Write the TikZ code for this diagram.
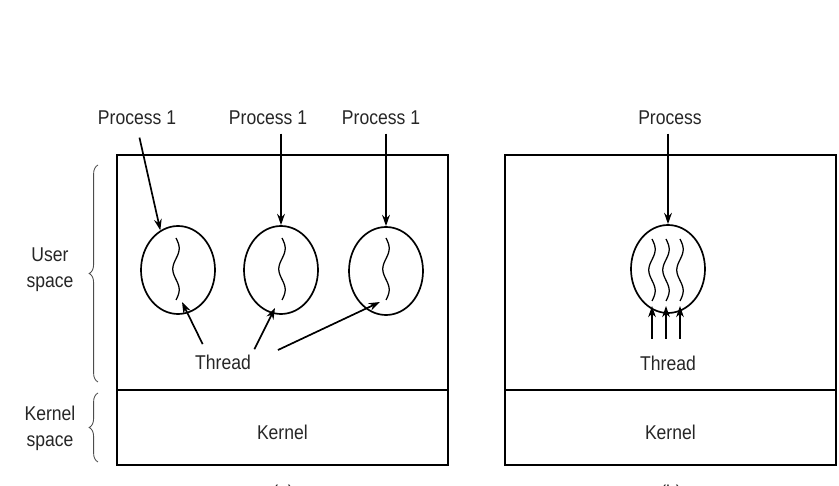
\documentclass[tikz,border=0pt]{standalone}
\usepackage{fontspec}
\setmainfont{Liberation Sans}[FakeStretch=0.88]
\usetikzlibrary{shapes.geometric, arrows.meta, decorations.pathreplacing}

\begin{document}
\begin{tikzpicture}
        [txt/.style={font=\fontsize{14.2}{18.4}\selectfont,text=black!85,inner sep=1pt,align=center},
         proc/.style={draw,shape=ellipse,line width=1.2pt,minimum width=1.85cm,minimum height=2.2cm,inner sep=0},
         arr/.style={-{Stealth[length=8pt,width=5.5pt]},line width=1.2pt},
         thr/.style={line width=0.9pt},
         brc/.style={decorate,decoration={brace,amplitude=0.22cm},line width=0.6pt,black!70}]

        \useasboundingbox (0,0) rectangle (20.975,12.15);

        % the two pictures
        \draw[line width=1.2pt] (2.925,0.525) rectangle (11.2,8.275);
        \draw[line width=1.4pt] (2.925,2.4) -- (11.2,2.4);
        \draw[line width=1.2pt] (12.625,0.525) rectangle (20.9,8.275);
        \draw[line width=1.2pt] (12.625,2.4) -- (20.9,2.4);

        \node[txt] (ka) at (7.06, 1.35) {Kernel};
        \node[txt] (kb) at (16.76, 1.35) {Kernel};

        % spaces at the left
        \node[txt] (us) at (1.25, 5.4) {User\\space};
        \node[txt] (ks) at (1.25, 1.45) {Kernel\\space};
        \draw[brc] (2.45,2.6) -- (2.45,8.025);
        \draw[brc] (2.45,0.6) -- (2.45,2.325);

        % processes
        \node[proc] (p1) at (4.45, 5.4) {};
        \node[proc] (p2) at (7.025, 5.4) {};
        \node[proc] (p3) at (9.65, 5.375) {};
        \node[proc] (pb) at (16.7, 5.425) {};

        \node[txt] (lp1) at (3.425, 9.2) {Process 1};
        \node[txt] (lp2) at (6.7, 9.2) {Process 1};
        \node[txt] (lp3) at (9.525, 9.2) {Process 1};
        \node[txt] (lpb) at (16.75, 9.2) {Process};

        \draw[arr, shorten <=8pt] (lp1.south) -- (p1.114);
        \draw[arr, shorten <=5pt] (lp2.south -| p2.north) -- (p2.north);
        \draw[arr, shorten <=5pt] (lp3.south -| p3.north) -- (p3.north);
        \draw[arr, shorten <=5pt] (lpb.south -| pb.north) -- (pb.north);

        % threads
        \foreach \x/\y in {4.4/6.2, 7.05/6.2, 9.65/6.2, 16.3/6.175, 16.65/6.175, 17.0/6.175}
          \draw[thr] plot[variable=\t, domain=0:1.55, samples=40, smooth]
                ({\x+0.08*sin(\t*348)}, {\y-\t});

        \node[txt] (th) at (5.575, 3.1) {Thread};
        \node[txt] (thb) at (16.7, 3.075) {Thread};

        \coordinate (t1) at (4.55, 4.6);
        \coordinate (t2) at (6.875, 4.45);
        \coordinate (t3) at (9.5, 4.6);
        \coordinate (t4) at (16.3, 4.5);
        \coordinate (t5) at (16.65, 4.5);
        \coordinate (t6) at (17.0, 4.5);

        \draw[arr, shorten <=7pt] ([xshift=-0.4cm]th.north) -- (t1);
        \draw[arr, shorten <=3pt] (th.north east) -- (t2);
        \draw[arr, shorten <=20pt] (th.east) -- (t3);
        \draw[arr, shorten <=11pt] (thb.north -| t4) -- (t4);
        \draw[arr, shorten <=11pt] (thb.north -| t5) -- (t5);
        \draw[arr, shorten <=11pt] (thb.north -| t6) -- (t6);

        % captions, cut by the frame
        \node[txt] (ca) at (7.075, -0.2) {(a)};
        \node[txt] (cb) at (16.775, -0.2) {(b)};
      \end{tikzpicture}
\end{document}
